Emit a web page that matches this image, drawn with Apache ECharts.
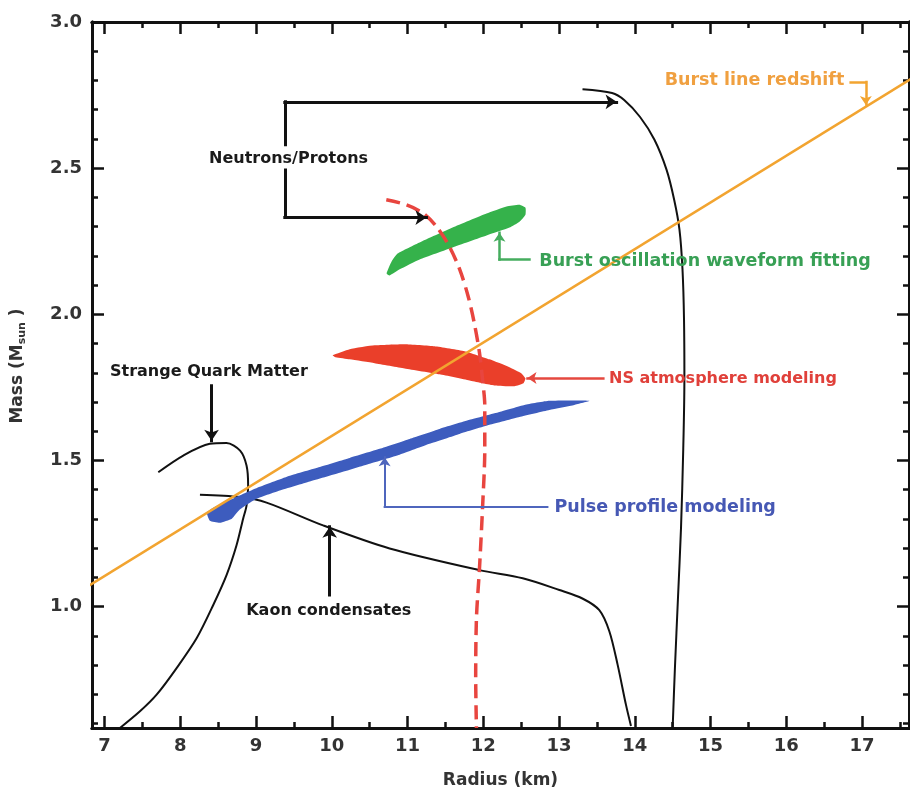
<!DOCTYPE html>
<html>
<head>
<meta charset="utf-8">
<script src="https://cdn.jsdelivr.net/npm/echarts@6/dist/echarts.min.js"></script>
<style>
  html, body { margin: 0; padding: 0; background: #fff; }
  #main { width: 910px; height: 794px; }
</style>
</head>
<body>
<div id="main"></div>
<script>
// axis ticks
var xMajorTicks = [7, 8, 9, 10, 11, 12, 13, 14, 15, 16, 17];
var xMinorTicks = [7.5, 8.5, 9.5, 10.5, 11.5, 12.5, 13.5, 14.5, 15.5, 16.5, 17.5];
var yMajorTicks = [1.0, 1.5, 2.0, 2.5, 3.0];
var yMinorTicks = [0.6, 0.7, 0.8, 0.9, 1.1, 1.2, 1.3, 1.4, 1.6, 1.7, 1.8, 1.9, 2.1, 2.2, 2.3, 2.4, 2.6, 2.7, 2.8, 2.9];

// equation of state curves [radius km, mass Msun]
var neutronProton = [[13.31, 2.770], [13.70, 2.757], [13.86, 2.733], [14.07, 2.675], [14.26, 2.597],
  [14.42, 2.494], [14.52, 2.392], [14.59, 2.290], [14.63, 2.154], [14.65, 1.983], [14.655, 1.778],
  [14.64, 1.540], [14.61, 1.267], [14.57, 1.028], [14.53, 0.790], [14.50, 0.585]];
var strangeQuark = [[7.71, 1.460], [8.04, 1.517], [8.39, 1.557], [8.61, 1.560], [8.79, 1.534],
  [8.875, 1.483], [8.896, 1.415], [8.875, 1.346], [8.83, 1.301], [8.743, 1.210], [8.611, 1.108],
  [8.434, 1.005], [8.216, 0.892], [7.952, 0.790], [7.688, 0.699], [7.468, 0.642], [7.204, 0.585]];
var kaonCondensate = [[8.26, 1.383], [8.786, 1.375], [9.139, 1.356], [9.885, 1.278], [10.764, 1.199],
  [11.95, 1.125], [12.521, 1.097], [13.005, 1.057], [13.309, 1.028], [13.532, 0.988], [13.664, 0.916],
  [13.774, 0.801], [13.884, 0.664], [13.95, 0.592]];
var dashedEos = [[10.72, 2.392], [10.98, 2.375], [11.20, 2.347], [11.38, 2.301], [11.55, 2.233],
  [11.69, 2.153], [11.80, 2.062], [11.88, 1.972], [11.95, 1.869], [11.99, 1.778], [12.02, 1.687],
  [12.02, 1.540], [11.99, 1.336], [11.95, 1.131], [11.91, 0.960], [11.90, 0.756], [11.91, 0.585]];
var redshiftLine = [[6.8, 1.073], [17.7, 2.814]];

// constraint regions (outlines)
var burstOscRegion = [[10.79, 2.181], [10.869, 2.208], [11.16, 2.246], [11.595, 2.297], [12.043, 2.345],
  [12.307, 2.369], [12.478, 2.375], [12.557, 2.365], [12.557, 2.341], [12.478, 2.317], [12.346, 2.297],
  [12.043, 2.270], [11.595, 2.229], [11.16, 2.188], [10.896, 2.154], [10.764, 2.133], [10.724, 2.140]];
var atmosphereRegion = [[10.013, 1.860], [10.237, 1.881], [10.566, 1.894], [10.962, 1.898], [11.357, 1.891],
  [11.753, 1.874], [12.082, 1.846], [12.346, 1.819], [12.504, 1.798], [12.557, 1.781], [12.531, 1.764],
  [12.412, 1.754], [12.148, 1.757], [11.819, 1.774], [11.423, 1.795], [10.962, 1.815], [10.566, 1.833],
  [10.237, 1.846], [10.052, 1.853]];
var pulseRegion = [[8.351, 1.322], [8.457, 1.342], [8.72, 1.373], [9.05, 1.410], [9.446, 1.448],
  [9.841, 1.478], [10.237, 1.509], [10.632, 1.540], [11.028, 1.574], [11.423, 1.608], [11.819, 1.639],
  [12.214, 1.666], [12.544, 1.690], [12.873, 1.704], [13.401, 1.704], [13.203, 1.690], [12.873, 1.673],
  [12.478, 1.649], [12.082, 1.622], [11.687, 1.591], [11.291, 1.557], [10.896, 1.520], [10.5, 1.489],
  [10.105, 1.458], [9.709, 1.428], [9.314, 1.397], [8.984, 1.366], [8.786, 1.332], [8.681, 1.301],
  [8.523, 1.287], [8.391, 1.294]];

// annotation arrows and labels
var blackArrows = [
  [[9.38, 2.580], [9.38, 2.727], [13.76, 2.727]],
  [[9.38, 2.494], [9.38, 2.331], [11.25, 2.331]],
  [[8.413, 1.756], [8.413, 1.568]],
  [[9.973, 1.040], [9.973, 1.273]]
];
var orangeArrow = [[16.85, 2.795], [17.05, 2.795], [17.05, 2.716]];
var greenArrow = [[12.61, 2.188], [12.214, 2.188], [12.214, 2.279]];
var redArrow = [[13.585, 1.782], [12.584, 1.782]];
var blueArrow = [[12.847, 1.341], [10.698, 1.341], [10.698, 1.511]];

var labelTexts = ['Neutrons/Protons', 'Strange Quark Matter', 'Kaon condensates', 'Burst line redshift',
  'Burst oscillation waveform fitting', 'NS atmosphere modeling', 'Pulse profile modeling'];
var labelAnchors = [[9.43, 2.532], [8.378, 1.802], [9.96, 0.987], [15.58, 2.799],
  [12.74, 2.181], [13.66, 1.780], [12.94, 1.341]];
var labelColors = ['#1a1a1a', '#1a1a1a', '#1a1a1a', '#F0A040', '#38A055', '#E0403A', '#4658B4'];
var labelSizes = [16, 16, 16, 17.5, 17.5, 16, 17.5];
var labelAligns = ['center', 'center', 'center', 'center', 'left', 'left', 'left'];

var chart = echarts.init(document.getElementById('main'));

var X_MIN = 6.835, X_MAX = 17.62, Y_MIN = 0.585, Y_MAX = 3.0;
var FONT = 'DejaVu Sans';

function xAxisDef(pos, ticks, len, labels) {
  return {
    type: 'value', position: pos, min: X_MIN, max: X_MAX,
    axisLine: { show: true, onZero: false, lineStyle: { color: '#111', width: 3 } },
    axisTick: { show: true, inside: true, length: len, customValues: ticks, lineStyle: { color: '#111', width: 2.5 } },
    axisLabel: labels ? { show: true, customValues: ticks, margin: 9, fontFamily: FONT, fontWeight: 'bold', fontSize: 18, color: '#333' } : { show: false },
    splitLine: { show: false },
    name: labels ? 'Radius (km)' : '',
    nameLocation: 'middle', nameGap: 44,
    nameTextStyle: { fontFamily: FONT, fontWeight: 'bold', fontSize: 17, color: '#333' }
  };
}
function yAxisDef(pos, ticks, len, labels) {
  return {
    type: 'value', position: pos, min: Y_MIN, max: Y_MAX,
    axisLine: { show: true, onZero: false, lineStyle: { color: '#111', width: 3 } },
    axisTick: { show: true, inside: true, length: len, customValues: ticks, lineStyle: { color: '#111', width: 2.5 } },
    axisLabel: labels ? { show: true, customValues: ticks, margin: 10, fontFamily: FONT, fontWeight: 'bold', fontSize: 18, color: '#333',
      formatter: function (v) { return v.toFixed(1); } } : { show: false },
    splitLine: { show: false },
    name: labels ? 'Mass (M{sub|sun} )' : '',
    nameLocation: 'middle', nameGap: 64,
    nameTextStyle: { fontFamily: FONT, fontWeight: 'bold', fontSize: 17, color: '#333', padding: [0, 0, 0, 18],
      rich: { sub: { fontFamily: FONT, fontWeight: 'bold', fontSize: 11, color: '#333', verticalAlign: 'bottom', padding: [10, 0, 0, 0] } } }
  };
}

function region(points, color) {
  return {
    type: 'custom', xAxisIndex: 0, yAxisIndex: 0, z: 3, silent: true,
    renderItem: function (params, api) {
      if (params.dataIndex !== 0) return;
      var pts = points.map(function (p) { return api.coord(p); });
      return { type: 'polygon', shape: { points: pts, smooth: 0.15 }, style: { fill: color } };
    },
    data: points
  };
}

function curve(points, color, width, z) {
  return {
    type: 'line', data: points, showSymbol: false, smooth: 0.3, z: z, silent: true,
    lineStyle: { color: color, width: width }
  };
}

// each path: plain segments + last segment with an arrow head
function arrows(paths, color, width, size) {
  var body = [], heads = [];
  paths.forEach(function (p) {
    for (var i = 0; i < p.length - 1; i++) {
      var seg = { coords: [p[i], p[i + 1]] };
      if (i === p.length - 2) heads.push(seg); else body.push(seg);
    }
  });
  var base = {
    type: 'lines', coordinateSystem: 'cartesian2d', z: 6, silent: true,
    lineStyle: { color: color, width: width, opacity: 1, cap: 'square' }
  };
  return [
    Object.assign({}, base, { symbol: ['none', 'none'], data: body }),
    Object.assign({}, base, { symbol: ['none', 'arrow'], symbolSize: size, data: heads })
  ];
}

var labelData = labelTexts.map(function (t, i) {
  return {
    value: labelAnchors[i], name: t,
    label: { color: labelColors[i], align: labelAligns[i], fontSize: labelSizes[i] }
  };
});

var series = [
  curve(neutronProton, '#111', 2, 2),
  curve(strangeQuark, '#111', 2, 2),
  curve(kaonCondensate, '#111', 2, 2),
  region(burstOscRegion, '#35B24B'),
  region(atmosphereRegion, '#EA3F2A'),
  region(pulseRegion, '#3D5CBE'),
  {
    type: 'line', data: dashedEos, showSymbol: false, smooth: 0.3, z: 4, silent: true,
    lineStyle: { color: '#E8453F', width: 3.5, type: [14, 7] }
  },
  curve(redshiftLine, '#F2A430', 2.5, 5)
].concat(
  arrows(blackArrows, '#111', 3, 11),
  arrows([orangeArrow], '#F2A430', 2.5, 9),
  arrows([greenArrow], '#45AD5E', 2.5, 9),
  arrows([redArrow], '#E5483F', 2.5, 9),
  arrows([blueArrow], '#4F66BD', 2, 9),
  [{
    type: 'scatter', data: labelData, symbol: 'circle', symbolSize: 2, z: 7, silent: true,
    itemStyle: { color: 'rgba(255,255,255,0)' },
    label: {
      show: true, position: 'inside', verticalAlign: 'middle', opacity: 1,
      textBorderWidth: 0, textShadowBlur: 0,
      fontFamily: FONT, fontWeight: 'bold', fontSize: 16,
      formatter: function (p) { return p.name; }
    }
  }]
);

chart.setOption({
  backgroundColor: '#fff',
  animation: false,
  grid: { left: 92, right: 1, top: 22, bottom: 64 },
  xAxis: [
    xAxisDef('bottom', xMajorTicks, 12, true),
    xAxisDef('bottom', xMinorTicks, 6, false),
    xAxisDef('top', xMajorTicks, 12, false),
    xAxisDef('top', xMinorTicks, 6, false)
  ],
  yAxis: [
    yAxisDef('left', yMajorTicks, 12, true),
    yAxisDef('left', yMinorTicks, 6, false),
    yAxisDef('right', yMajorTicks, 12, false),
    yAxisDef('right', yMinorTicks, 6, false)
  ],
  series: series
});
</script>
</body>
</html>
